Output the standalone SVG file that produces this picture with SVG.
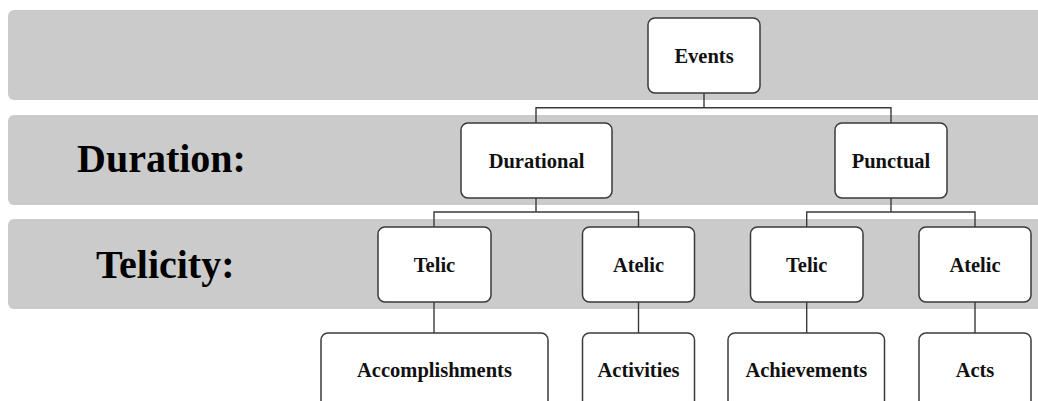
<svg xmlns="http://www.w3.org/2000/svg" width="1038" height="401" viewBox="0 0 1038 401">
<style>
.band{fill:#cbcbcb}
.box{fill:#fff;stroke:#3a3a3a;stroke-width:1.5}
.t{font-family:"Liberation Serif","Times New Roman",serif;font-weight:bold;font-size:20.5px;fill:#111;text-anchor:middle}
.lbl{font-family:"Liberation Serif","Times New Roman",serif;font-weight:bold;font-size:40px;fill:#000}
.c{fill:none;stroke:#3a3a3a;stroke-width:1.4}
</style>
<g id="bands">
<rect class="band" x="8" y="10" width="1045" height="90" rx="6"/>
<rect class="band" x="8" y="115" width="1045" height="90" rx="6"/>
<rect class="band" x="8" y="219" width="1045" height="90" rx="6"/>
</g>
<g id="labels">
<text class="lbl" x="77" y="172">Duration:</text>
<text class="lbl" x="96" y="278">Telicity:</text>
</g>
<g id="connectors">
<path class="c" d="M704 93V107.7M536 123V107.7H891V123"/>
<path class="c" d="M536 198V212M434 227V212H638.5V227"/>
<path class="c" d="M891 198V212M806.7 227V212H975V227"/>
<path class="c" d="M434 302V333M638.5 302V333M806.7 302V333M975 302V333"/>
</g>
<g id="events"><rect class="box" x="648" y="18" width="112" height="75" rx="7"/><text class="t" x="704" y="63">Events</text></g>
<g id="durational"><rect class="box" x="461" y="123" width="151" height="75" rx="7"/><text class="t" x="536.5" y="167.5">Durational</text></g>
<g id="punctual"><rect class="box" x="835" y="123" width="112" height="75" rx="7"/><text class="t" x="891" y="167.5">Punctual</text></g>
<g id="telic1"><rect class="box" x="378" y="227" width="113" height="75" rx="7"/><text class="t" x="434.5" y="271.5">Telic</text></g>
<g id="atelic1"><rect class="box" x="582.5" y="227" width="112" height="75" rx="7"/><text class="t" x="638.5" y="271.5">Atelic</text></g>
<g id="telic2"><rect class="box" x="750.5" y="227" width="112.5" height="75" rx="7"/><text class="t" x="806.7" y="271.5">Telic</text></g>
<g id="atelic2"><rect class="box" x="919" y="227" width="112" height="75" rx="7"/><text class="t" x="975" y="271.5">Atelic</text></g>
<g id="accomplishments"><rect class="box" x="321" y="333" width="227" height="90" rx="7"/><text class="t" x="434.5" y="377">Accomplishments</text></g>
<g id="activities"><rect class="box" x="582.5" y="333" width="112" height="90" rx="7"/><text class="t" x="638.5" y="377">Activities</text></g>
<g id="achievements"><rect class="box" x="728" y="333" width="156.5" height="90" rx="7"/><text class="t" x="806.3" y="377">Achievements</text></g>
<g id="acts"><rect class="box" x="919" y="333" width="112" height="90" rx="7"/><text class="t" x="975" y="377">Acts</text></g>
</svg>
